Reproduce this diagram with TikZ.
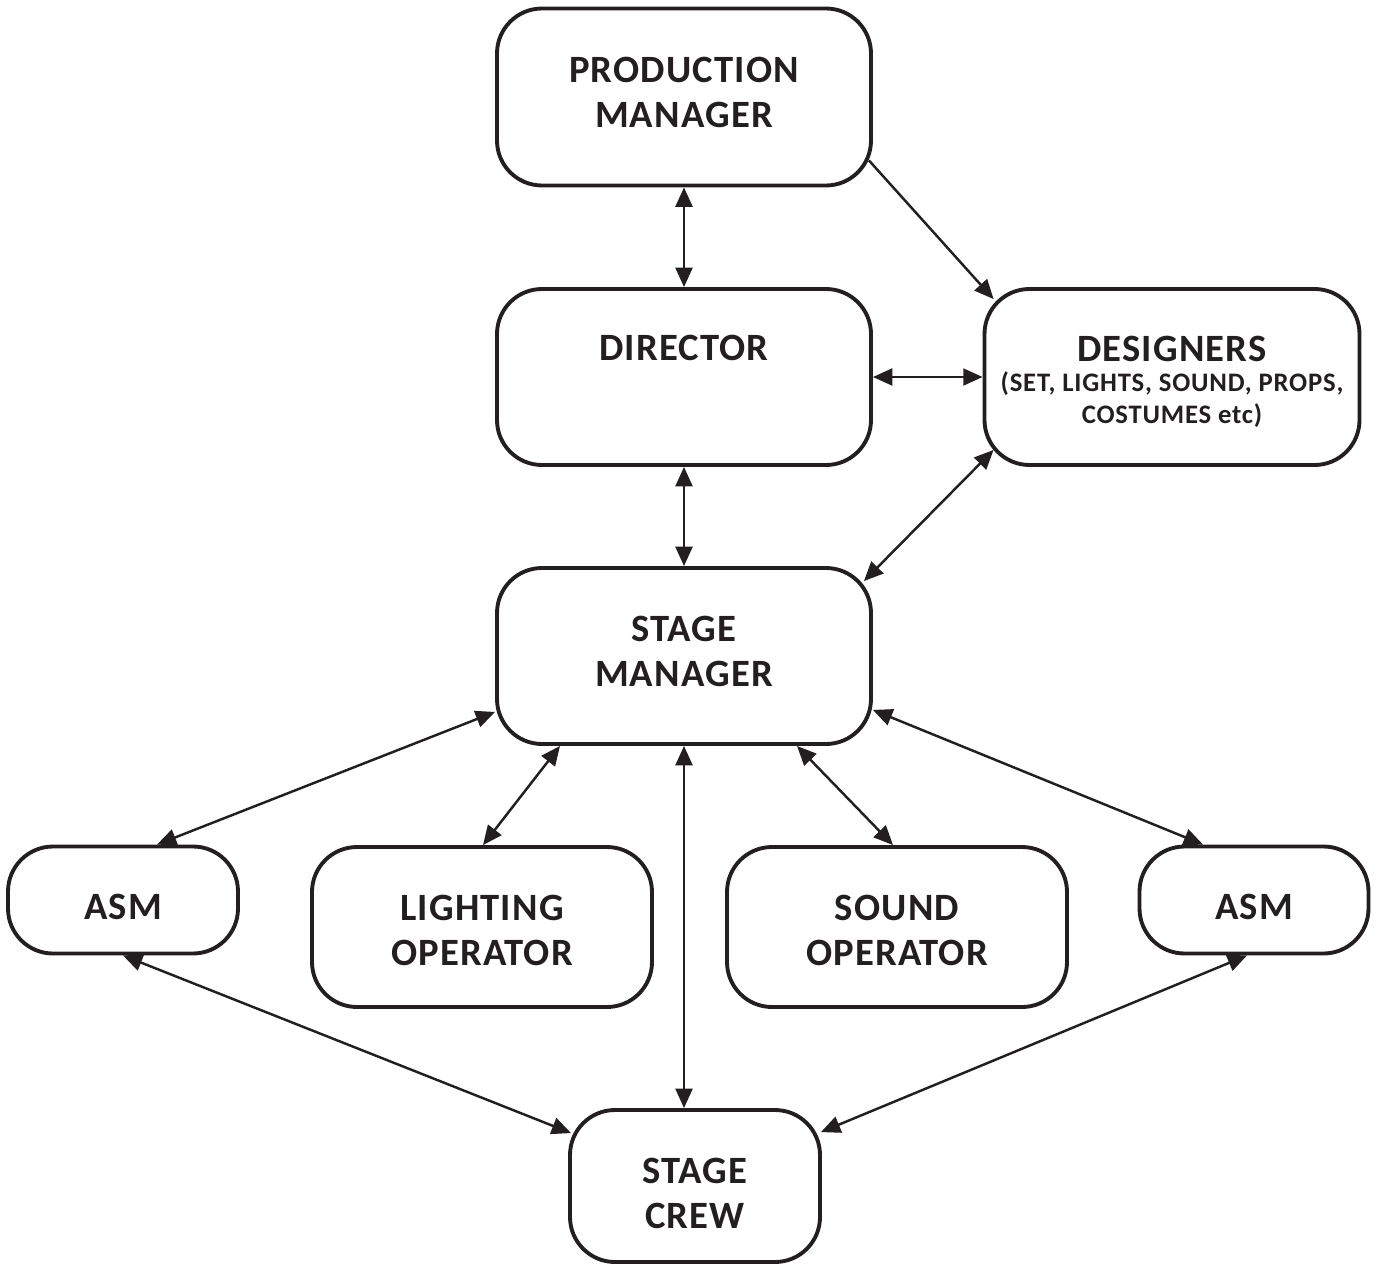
\documentclass[tikz,border=0pt]{standalone}
\usepackage{fontspec}
\setmainfont{Carlito}[LetterSpace=3]
\usepackage{tikz}
\usetikzlibrary{arrows.meta, calc}
\definecolor{inkblack}{HTML}{231F20}

\newcommand{\rolefont}{\fontsize{11}{12.8}\selectfont\bfseries}
\newcommand{\subrolefont}{\fontsize{7.6}{9}\selectfont\bfseries}

\begin{document}
\begin{tikzpicture}[>={Triangle[length=5.5pt, width=4.8pt]}, font=\rolefont,
    role/.style={draw=inkblack, line width=1.1pt, rounded corners=0.45cm, align=center, text=inkblack, inner sep=0pt},
    link/.style={<->, draw=inkblack, line width=0.7pt}]
    \useasboundingbox (0, 0) rectangle (13.77, 12.66);

    % Management
    \node[role, minimum width=3.74cm, minimum height=1.77cm] (pm) at (6.84, 11.69) {PRODUCTION\\MANAGER\\[-10pt]~};
    \node[role, minimum width=3.74cm, minimum height=1.76cm] (dir) at (6.84, 8.89) {DIRECTOR\\[3.7pt]~};
    \node[role, minimum width=3.75cm, minimum height=1.76cm] (des) at (11.72, 8.89)
        {~\\[-2.9pt]DESIGNERS\\[-4.3pt]{\subrolefont (SET, LIGHTS, SOUND, PROPS,}\\[-3.6pt]{\subrolefont COSTUMES etc)}};
    \node[role, minimum width=3.74cm, minimum height=1.76cm] (sm) at (6.84, 6.10) {STAGE\\MANAGER\\[-10pt]~};

    % Crew row
    \node[role, minimum width=2.30cm, minimum height=1.07cm] (asmL) at (1.23, 3.66) {~\\[-1.7pt]ASM};
    \node[role, minimum width=3.40cm, minimum height=1.60cm] (light) at (4.82, 3.39) {~\\[-3.7pt]LIGHTING\\OPERATOR};
    \node[role, minimum width=3.40cm, minimum height=1.60cm] (sound) at (8.97, 3.39) {~\\[-3.7pt]SOUND\\OPERATOR};
    \node[role, minimum width=2.29cm, minimum height=1.07cm] (asmR) at (12.54, 3.66) {~\\[-1.7pt]ASM};
    \node[role, minimum width=2.50cm, minimum height=1.52cm] (crew) at (6.95, 0.80) {~\\[-1.1pt]STAGE\\CREW};

    % Links between management
    \draw[link] (pm.south) -- (dir.north);
    \draw[link, <-] ($(des.north west)+(0.11, -0.12)$) -- ($(pm.south east)+(-0.04, 0.27)$);
    \draw[link] (dir.east) -- (des.west);
    \draw[link] (dir.south) -- (sm.north);
    \draw[link] ($(des.south west)+(0.11, 0.17)$) -- ($(sm.north east)+(-0.09, -0.15)$);

    % Links from stage manager
    \draw[link] ($(sm.south west)+(0, 0.34)$) -- ($(asmL.north)+(0.34, 0)$);
    \draw[link] ($(sm.south)+(-1.24, 0)$) -- ($(light.north)+(0.01, 0)$);
    \draw[link] (sm.south) -- (sm.south |- crew.north);
    \draw[link] ($(sm.south)+(1.13, 0)$) -- ($(sound.north)+(-0.04, 0)$);
    \draw[link] ($(sm.south east)+(0, 0.36)$) -- ($(asmR.north)+(-0.51, 0)$);

    % ASMs and crew
    \draw[link] (asmL.south) -- ($(crew.north west)+(0.03, -0.25)$);
    \draw[link] ($(asmR.south)+(-0.07, 0)$) -- ($(crew.north east)+(-0.01, -0.24)$);
\end{tikzpicture}
\end{document}
